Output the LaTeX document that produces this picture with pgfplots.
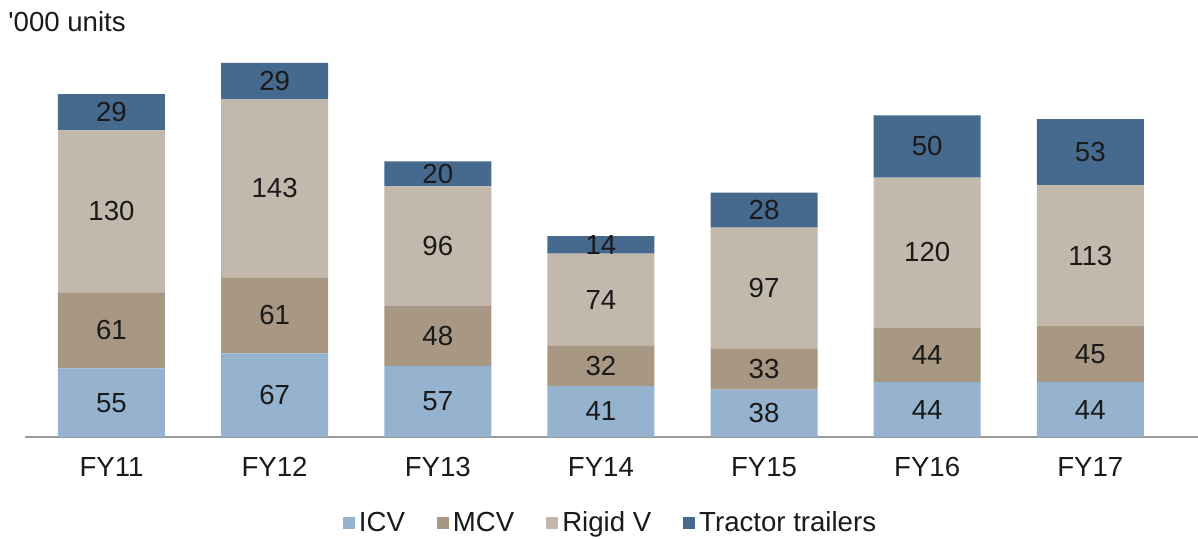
\documentclass[border=0pt]{standalone}
\usepackage{fontspec}
\setmainfont{Liberation Sans}[Ligatures=TeXOff]
\usepackage{pgfplots}
\pgfplotsset{compat=1.18}
\definecolor{cICV}{HTML}{95B3CF}
\definecolor{cMCV}{HTML}{A79783}
\definecolor{cRig}{HTML}{C2B9AC}
\definecolor{cTT}{HTML}{46698E}
\definecolor{txt}{HTML}{1A1A1A}
\newcommand\fs{\fontsize{13.8}{16}\selectfont}
\begin{document}
\begin{tikzpicture}
\path[use as bounding box] (-12.5pt,-51pt) rectangle (586.5pt,218.5pt);
\begin{axis}[
  scale only axis,
  width=586.5pt, height=199.5pt,
  anchor=south west, at={(0,0)},
  ybar stacked, bar width=53.5pt,
  xmin=-0.53, xmax=6.66, ymin=0, ymax=320,
  xtick=data, xticklabels={FY11,FY12,FY13,FY14,FY15,FY16,FY17},
  xtick style={draw=none},
  xticklabel style={font=\fs, text=txt, text height=10pt, text depth=0pt, yshift=-6pt},
  axis y line=none, axis x line*=bottom,
  x axis line style={-, draw=gray!80, line width=0.6pt},
  point meta=explicit symbolic,
  nodes near coords,
  every node near coord/.append style={anchor=center, font=\fs, text=txt},
  legend style={draw=none, at={(0.5,-0.216)}, anchor=center, legend columns=-1,
    font=\fs, text=txt,
    /tikz/every even column/.append style={column sep=14pt}},
  legend image code/.code={\fill[#1] (0pt,-3pt) rectangle (6pt,3pt);},
]
\addplot[fill=cICV, draw=none] coordinates {(0,55)[55] (1,67)[67] (2,57)[57] (3,41)[41] (4,38)[38] (5,44)[44] (6,44)[44]};
\addplot[fill=cMCV, draw=none] coordinates {(0,61)[61] (1,61)[61] (2,48)[48] (3,32)[32] (4,33)[33] (5,44)[44] (6,45)[45]};
\addplot[fill=cRig, draw=none] coordinates {(0,130)[130] (1,143)[143] (2,96)[96] (3,74)[74] (4,97)[97] (5,120)[120] (6,113)[113]};
\addplot[fill=cTT, draw=none] coordinates {(0,29)[29] (1,29)[29] (2,20)[20] (3,14)[14] (4,28)[28] (5,50)[50] (6,53)[53]};
\legend{ICV,MCV,Rigid V,Tractor trailers}
\end{axis}
\node[anchor=west, font=\fs, text=txt, inner sep=0pt] at (-8.5pt,207.5pt) {'000 units};
\end{tikzpicture}
\end{document}
